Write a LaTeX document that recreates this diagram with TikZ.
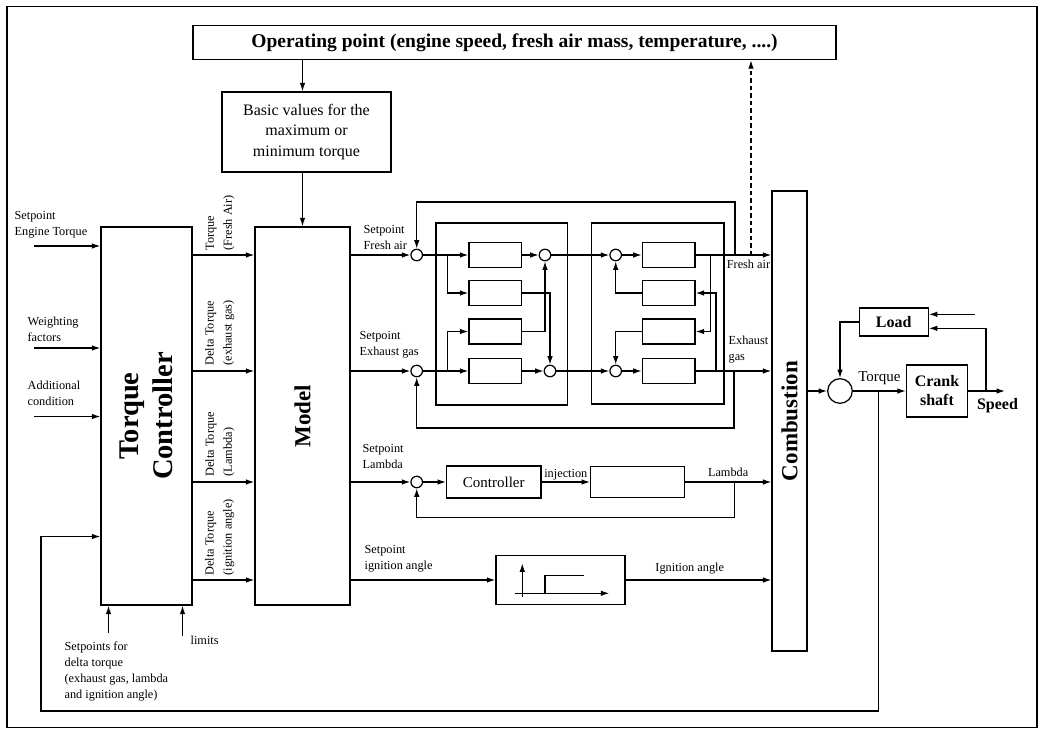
\documentclass[tikz,border=0pt]{standalone}
\usepackage{fontspec}
\setmainfont{Liberation Serif}
\usetikzlibrary{arrows.meta}

\newcommand{\fsz}[2]{\fontsize{#1}{#2}\selectfont}

\begin{document}
\begin{tikzpicture}[x=1pt,y=-1pt,line width=1.25pt,>={Latex[length=8.5pt,width=5.6pt]},
  blk/.style={draw,line width=1.3pt,inner sep=0pt},
  sum/.style={draw,circle,inner sep=0pt,minimum size=11.5pt},
  lbl/.style={font=\fsz{12.3}{16},align=left,inner sep=0pt},
  vlbl/.style={font=\fsz{12.3}{18},align=left,inner sep=0pt,rotate=90,anchor=south west},
  bigtxt/.style={rotate=90,align=center,inner sep=0pt}]
  \useasboundingbox (0,0) rectangle (1044,729);
  \draw[line width=1.3pt] (7,6.5) rectangle (1037,727.5);

  % rows of the four torque paths
  \coordinate (rA) at (0,255);
  \coordinate (rB) at (0,371);
  \coordinate (rC) at (0,482);
  \coordinate (rD) at (0,580);

  \node[blk,minimum width=643,minimum height=34,font=\bfseries\fsz{19.5}{22}] (op) at (514.5,42.5)
    {Operating point (engine speed, fresh air mass, temperature, ....)};
  \node[blk,minimum width=169,minimum height=80,align=center,font=\fsz{16}{20.5}] (basic) at (306.5,132)
    {Basic values for the\\maximum or\\minimum torque};

  \node[blk,minimum width=91,minimum height=378] (tc) at (146.5,416) {};
  \node[blk,minimum width=95,minimum height=378] (model) at (302.5,416) {};
  \node[blk,minimum width=35,minimum height=460] (comb) at (789.5,421) {};
  \node[bigtxt,font=\bfseries\fsz{28.5}{34}] at (tc) {Torque\\Controller};
  \node[bigtxt,font=\bfseries\fsz{23}{27}] at (model) {Model};
  \node[bigtxt,font=\bfseries\fsz{23}{27}] at (comb) {Combustion};

  \draw[->] (op.south -| model) -- (basic.north -| model);
  \draw[->] (basic.south -| model) -- (model.north);

  % inputs of the torque controller
  \coordinate (inA) at (34,246);
  \coordinate (inB) at (34,348);
  \coordinate (inC) at (34,416.5);
  \coordinate (fbIn) at (41,536.5);
  \node[lbl,anchor=west] at (14,225) {Setpoint\\Engine Torque};
  \node[lbl,anchor=west] at (27,329) {Weighting\\factors};
  \node[lbl,anchor=west] at (27,393) {Additional\\condition};
  \foreach \p in {inA,inB,inC}
    \draw[->] (\p) -- (tc.west |- \p);

  \coordinate (sp) at (108.5,633);
  \coordinate (lim) at (182.5,636);
  \draw[->] (sp) -- (sp |- tc.south);
  \draw[->] (lim) -- (lim |- tc.south);
  \node[lbl,anchor=north west] at (64,641) {Setpoints for\\delta torque\\(exhaust gas, lambda\\and ignition angle)};
  \node[lbl,anchor=west] at (190,640) {limits};

  \foreach \r in {rA,rB,rC,rD}
    \draw[->] (tc.east |- \r) -- (model.west |- \r);
  \node[vlbl] at (235,251) {Torque\\(Fresh Air)};
  \node[vlbl] at (235,366) {Delta Torque\\(exhaust gas)};
  \node[vlbl] at (235,477) {Delta Torque\\(Lambda)};
  \node[vlbl] at (235,576) {Delta Torque\\(ignition angle)};

  % fresh air and exhaust gas paths
  \node[sum] (sF) at (416.7,255) {};
  \node[sum] (sE) at (416.7,371) {};
  \draw[->] (model.east |- sF) -- (sF);
  \draw[->] (model.east |- sE) -- (sE);
  \node[lbl,anchor=west] at (363,237) {Setpoint\\Fresh air};
  \node[lbl,anchor=west] at (359,345) {Setpoint\\Exhaust gas};

  \node[blk,minimum width=131.5,minimum height=182] (bxA) at (501.75,314) {};
  \node[blk,minimum width=132.3,minimum height=181] (bxB) at (657.85,313.5) {};
  \foreach \i/\y in {1/255,2/293,3/331.5,4/371} {
    \node[blk,minimum width=52.7,minimum height=25] (a\i) at (495.3,\y) {};
    \node[blk,minimum width=52.7,minimum height=25] (b\i) at (668.7,\y) {};
  }
  \node[sum] (sA1) at (545,255) {};
  \node[sum] (sA2) at (550,371) {};
  \node[sum] (sB1) at (615.7,255) {};
  \node[sum] (sB2) at (615.7,371) {};

  \coordinate (jF) at (447.7,255);
  \coordinate (jE) at (447.7,371);
  \draw[->] (sF) -- (a1);
  \draw[->] (jF) |- (a2);
  \draw[->] (sE) -- (a4);
  \draw[->] (jE) |- (a3);
  \draw[->] (a1) -- (sA1);
  \draw[->] (a2) -| (sA2);
  \draw[->] (a3) -| (sA1);
  \draw[->] (a4) -- (sA2);
  \draw[->] (sA1) -- (sB1);
  \draw[->] (sA2) -- (sB2);
  \draw[->] (sB1) -- (b1);
  \draw[->] (sB2) -- (b4);
  \draw[->] (b2) -| (sB1);
  \draw[->] (b3) -| (sB2);

  \coordinate (jB1) at (710.7,255);
  \coordinate (jB4) at (716,371);
  \draw[->] (b1) -- (comb.west |- b1);
  \draw[->] (b4) -- (comb.west |- b4);
  \draw[->] (jB1) |- (b3);
  \draw[->] (jB4) |- (b2);
  \node[lbl] at (748.5,264.5) {Fresh air};
  \node[lbl,anchor=west] at (728,350) {Exhaust\\gas};

  % outer feedback loops
  \coordinate (fbF) at (735,255);
  \coordinate (fbE) at (734,371);
  \draw[->] (fbF) -- ++(0,-53) -| (sF);
  \draw[->] (fbE) -- ++(0,57) -| (sE);
  \coordinate (jOp) at (751,255);
  \draw[->,dashed,dash pattern=on 4.5pt off 3pt] (jOp) -- (jOp |- op.south);

  % lambda path
  \node[sum] (sL) at (416.7,482) {};
  \node[blk,minimum width=94.3,minimum height=32,font=\fsz{15}{18}] (ctrl) at (493.8,482) {Controller};
  \node[blk,minimum width=93.6,minimum height=31] (inj) at (637.5,482) {};
  \node[lbl,anchor=west] at (362,456.5) {Setpoint\\Lambda};
  \draw[->] (model.east |- sL) -- (sL);
  \draw[->] (sL) -- (ctrl);
  \draw[->] (ctrl) -- node[lbl,above=1pt] {injection} (inj);
  \draw[->] (inj) -- node[lbl,above=5pt] {Lambda} (comb.west |- inj);
  \coordinate (fbL) at (734.3,482);
  \draw[->] (fbL) -- ++(0,35.3) -| (sL);

  % ignition angle path
  \node[blk,minimum width=129,minimum height=49] (ign) at (560.5,580) {};
  \node[lbl,anchor=west] at (364,559) {Setpoint\\ignition angle};
  \draw[->] (model.east |- ign) -- (ign);
  \draw[->] (ign) -- node[lbl,pos=0.44,above=5.6pt] {Ignition angle} (comb.west |- ign);
  \draw[->] ([shift={(-38.2,16.7)}]ign.center) -- ++(0,-33.4);
  \draw[->] ([shift={(-45.5,13.3)}]ign.center) -- ++(94.3,0);
  \draw ([shift={(-15.5,13.3)}]ign.center) -- ++(0,-17.6) -- ++(39.3,0);

  % crank shaft and load
  \node[draw,circle,minimum size=24.6pt,inner sep=0pt] (sT) at (840,391) {};
  \node[blk,minimum width=69,minimum height=28,font=\bfseries\fsz{16}{19}] (load) at (893.7,322) {Load};
  \node[blk,minimum width=61,minimum height=52,align=center,font=\bfseries\fsz{16}{19}] (crank) at (937,391) {Crank\\shaft};
  \draw[->] (comb.east |- sT) -- (sT);
  \draw[->] (sT) -- node[font=\fsz{15}{18},inner sep=0pt,above=6pt] {Torque} (crank);
  \draw[->] (load) -| (sT);
  \coordinate (spd) at (1005,391);
  \coordinate (jS) at (986,391);
  \coordinate (ldIn) at (975,314.3);
  \draw[->] (crank) -- (spd);
  \node[font=\bfseries\fsz{16}{19}] at (997.5,406) {Speed};
  \draw[->] (jS) |- ([yshift=-6.3pt]load.east);
  \draw[->] (ldIn) -- (ldIn -| load.east);

  % torque feedback to the controller
  \coordinate (jT) at (878.3,391);
  \draw[->] (jT) -- (jT |- 0,711) -| (fbIn) -- (tc.west |- fbIn);
\end{tikzpicture}
\end{document}
